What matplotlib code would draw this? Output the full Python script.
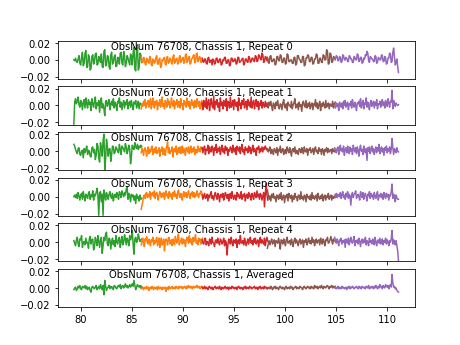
# Spectra of the 5 boards for each repeat of ObsNum 76708, Chassis 1

import numpy as np
import matplotlib.pyplot as plt

obsnum = 76708
chassis = 1
titles = ["Repeat 0", "Repeat 1", "Repeat 2", "Repeat 3", "Repeat 4", "Averaged"]

# frequency range covered by each board (GHz)
seg_start = [79.3, 85.9, 91.86, 98.26, 104.85]
seg_stop = [85.95, 91.9, 98.3, 104.9, 111.1]
colors = ["C2", "C1", "C3", "C5", "C4"]

# spectra, in units of 1e-3, one list per board
rep0 = [
    [0, -1, 2, -2, -3, 1, 5, -4, -6, 3, 9, -7, -4, 8, 11, -9, -8, 6, 3, -12, -10, 4, 6, -5, -2, 7, 8, -6, -5, 4, 1, -3, 7, -8, -9, 10, 12, -7, -6, 5, 4, -8, -11, 6, 9, -5, -3, 4, 6, -8, -7, 3, 2, -5, 8, 9, -4, -6, 10, 5, -8, -4, 5, 2, -2, -6, 7, 4, -6, 9, 15, -11, -13, 14, 18, -12, -9, 8, 6, -3],
    [4, -2, -3, 3, 2, -5, -6, 2, 1, -3, -4, 4, 3, -6, -7, 1, 0, -4, -2, 3, 5, -5, -5, 1, 2, -9, -8, 0, -1, 2, 3, -5, -6, 3, 4, -4, -3, 2, 1, -3, -5, 4, 6, -4, -2, 1, 2, -5, -4, 3, 5, -3, -1, 2, 3, -4, -3, 6, 7, -3, -2, 3, 4, -5, -4, 1, 2, 5, 6, -3, -3, 7, 8, -2, -1, 4, 3, -3, -2, 1],
    [2, -2, -3, 1, 1, -4, -5, 2, 3, -3, -2, 0, -6, 1, 0, -5, -4, 2, 2, -3, -3, 1, 1, -6, -5, 0, -1, 3, 3, -4, -4, 0, 0, -7, -6, 2, 2, -2, -2, 1, 1, -5, -4, 3, 3, -3, -2, -1, 1, 2, -6, -5, 1, 1, -2, -3, 4, 3, -3, -2, 2, 2, -1, -2, 5, 4, -2, -1, 6, 5, 1, 0, 8, 6, -3, -2, 4, 3, -1, 1],
    [3, -3, -4, 4, 5, -2, -2, 1, 1, -6, -5, 4, 4, -1, -1, 6, 5, -3, -3, 2, 2, -5, -4, 7, 6, -2, -2, 0, 0, -4, -4, 3, 3, -6, -5, 5, 5, 1, 0, -3, -3, 4, 4, -7, -6, 2, 2, 6, 5, -2, -2, 3, 3, -5, -4, 1, 1, 7, 6, -4, -4, 2, 2, -3, -3, 6, 5, 0, 0, 12, 10, -5, -4, 8, 7, -3, -2, 4, 3, 0],
    [2, 1, 5, 4, -1, -1, 4, 3, -3, -2, 6, 5, 0, 0, 3, 2, -2, -2, 5, 4, 1, 1, -3, -3, 4, 3, 0, 0, 7, 6, -2, -1, 3, 3, -4, -3, 2, 1, 6, 5, 10, 8, -1, -3, 4, 3, 1, 1, -2, -2, 5, 4, -4, -3, 3, 2, 0, 0, 6, 5, -2, -2, 4, 3, -5, -4, 2, 2, 8, 7, -3, -2, 9, 14, 4, -6, -3, 1, -8, -15],
]
rep1 = [
    [-22, 4, 8, 2, 5, 10, 1, -2, 6, 3, -5, 4, 7, -3, 9, 2, -3, 7, 1, 4, -6, 8, 2, -2, 5, 10, -4, 3, 0, 6, -8, 4, 9, -3, 2, -4, -12, 5, 6, -1, 3, 7, -5, 2, 5, 0, 8, -3, 4, 1, -6, 5, 3, 9, -2, 4, -5, 2, 6, -3, 4, 1, 7, -4, 3, 5, -2, 6, 0, -5, 4, 2, 6, -3, 1, 5, -4, 3, 2, 0],
    [-4, 2, -1, 5, 0, 7, -3, 3, 1, 6, -2, 4, 8, -4, 2, 9, 0, -3, 5, 1, 6, -5, 3, 0, 7, -2, 4, 10, -1, 2, -4, 6, 3, -2, 8, 1, 5, -3, 0, 9, 2, -1, 6, -4, 4, 1, 7, -2, 3, 5, -3, 8, 0, 2, -5, 6, 1, 4, -2, 9, 3, -1, 5, -4, 2, 7, 0, 4, -3, 6, 1, -2, 8, 3, -1, 5, -4, 2, 6, -3],
    [3, -5, 6, 1, -2, 9, -4, 4, 7, -6, 2, 8, 0, -3, 11, -5, 5, 1, 7, -2, 3, -7, 9, 0, 4, -4, 6, 2, -1, 8, -6, 5, 3, -3, 10, -2, 1, 6, -5, 7, 2, -1, 4, -6, 9, 0, 3, -4, 6, 1, 8, -3, 2, 5, -5, 7, 0, 4, -2, 10, -3, 3, 6, -4, 2, 7, -1, 5, -5, 3, 0, 6, -3, 4, 1, -2, 5, -1, 3, 2],
    [2, -3, 4, 0, 5, -1, -6, 3, 1, -4, 4, 0, 6, -2, -4, 2, 1, -5, 3, 7, -1, -3, 2, -6, 4, 1, 0, -2, 5, -4, 1, 3, 8, -3, 0, 2, -5, 4, -1, 1, -7, 3, 5, 0, -2, 6, -3, 2, -1, 4, -4, 1, 3, -5, 2, 0, 7, -2, 3, -4, 1, 5, -6, 2, -1, 4, 0, -3, 6, -2, 1, 3, -4, 2, 0, -1, 5, -3, 2, 4],
    [0, -3, 3, -1, 2, -6, 4, 1, -2, 3, -4, 5, 0, 6, -2, 1, 4, -5, 2, 0, 5, -3, 7, 1, -2, 4, 0, -6, 3, 2, 5, -1, 8, -3, 2, 6, -4, 3, 1, 9, -2, 4, 0, -5, 3, 6, -1, 2, 5, -3, 4, 0, 7, -4, 2, 1, 5, -2, 3, 7, 0, 4, -3, 6, 2, -1, 8, 3, -2, 5, 4, 18, -4, 6, 2, -1, 3, 1, 0, 1],
]
rep2 = [
    [8, 6, 2, -1, -3, 3, 4, -4, -5, 0, 1, -8, 3, -2, 2, 6, -4, 1, 0, -6, -7, 4, 5, -2, 2, -10, -5, 9, 6, -8, -13, 10, 4, -6, 12, 20, -22, -9, 14, 6, -6, 2, 3, -12, -4, 6, 5, -3, -1, 5, 3, 0, -2, 8, 2, -4, 6, 4, 2, -1, 9, 5, -3, 1, 7, 3, -15, -6, 7, 4, 2, 10, 5, 3, 8, 2, 6, 4, 7, 5],
    [-2, 3, 1, -5, 2, 4, 0, -6, 1, 5, -3, 2, -1, 4, 6, -4, 0, 3, -2, 5, -3, 1, -1, 4, -6, 2, 0, 5, -4, 3, 1, -5, 2, 6, 11, -2, 4, -3, 1, 0, 5, -7, 2, 3, -1, 6, -4, 0, 4, -2, 5, -3, 1, 6, -2, 3, 0, -5, 4, 2, -1, 5, -3, 1, 6, -2, 3, 0, 5, -4, 2, 1, -2, 6, 0, 3, -1, 5, 2, 4],
    [4, -2, 3, 6, -4, 2, 1, 7, -3, 5, 0, -1, 6, 3, -5, 4, 1, 8, -2, 3, 0, 5, -4, 2, 7, -1, 3, -3, 6, 1, 4, -5, 2, 0, 5, 3, -2, 7, 1, -1, 4, -4, 6, 2, 0, 5, -3, 3, 8, -1, 2, -4, 5, 1, 3, -2, 6, 0, 4, -3, 2, 7, -1, 3, 1, -5, 4, 2, 6, -2, 3, 0, 5, -1, 4, 2, 6, 3, 1, 2],
    [3, -1, 1, 5, -3, 2, 0, -4, 3, 1, -2, 4, -5, 2, 0, 6, -2, 1, 3, -4, 0, 2, -3, 5, 1, -2, 4, 0, -6, 2, 3, -1, 5, -3, 1, 0, -4, 3, 2, -2, 4, 1, -3, 5, 0, -1, 3, -5, 2, 1, 4, -2, 0, 3, -4, 2, 5, -1, 1, -3, 4, 0, 2, -4, 3, 1, -5, 2, 0, 4, -2, 3, -1, 1, 2, -3, 3, 0, -1, 2],
    [4, 1, -2, 3, 5, -4, 2, 7, 0, 3, -1, 6, -5, 2, 4, -2, 6, 1, -3, 5, 0, 3, -4, 7, 2, -1, 4, -3, 5, 1, -6, 3, 7, 0, 2, -4, 6, 1, -2, 3, -11, 4, 0, 5, -3, 2, 6, -1, 3, -4, 1, 5, -2, 4, 0, 8, -3, 2, 5, -1, 3, -5, 4, 1, 6, -2, 3, 0, 5, -3, 2, 15, 4, -4, 3, 1, -2, 4, 0, -1],
]
rep3 = [
    [0, 2, -1, 3, -2, 5, 1, -4, 2, 4, -3, 6, 0, -5, 3, 1, -2, 4, 6, -3, 2, 0, 7, -4, 3, 1, 5, 10, 2, -22, 4, 6, -6, 3, -22, 8, 2, -4, 5, 1, -3, 3, 6, 0, -2, 4, -5, 1, 3, -1, 5, 2, -3, 6, 4, -1, 7, 3, 0, 5, 2, 9, 12, -3, 4, 1, -6, 3, 0, 2, -4, 1, -8, 3, -2, 0, -5, 2, -3, -2],
    [-15, -10, -6, 1, 2, -2, 4, 5, -1, 3, 0, 6, -3, 4, 2, 5, 0, 7, -2, 3, 5, 1, -4, 2, 6, 3, -1, 4, 0, 5, -3, 2, 7, 1, 3, -2, 6, 0, 4, 2, -3, 5, 1, 7, 0, 3, -2, 5, 8, 1, -1, 4, 2, -4, 3, 6, 0, 2, 5, -1, 3, 7, 1, -2, 4, 2, 6, 0, 5, -1, 3, 1, 7, 2, -1, 4, 3, 7, 5, 2],
    [2, -3, 1, 4, -2, 0, 3, -5, 2, -1, 3, 6, -2, 1, -4, 2, 5, 0, -3, 4, 1, -6, 2, 3, -1, 4, -4, 0, 5, 2, -2, 3, -5, 1, 4, -2, 6, 0, -3, 2, 1, -4, 5, 0, 3, -2, -1, 6, -3, 2, 0, 4, -5, 1, 3, -2, 5, 0, 2, -4, 4, 1, -3, 5, 2, -1, 7, 0, 3, -3, 4, 2, -4, 1, 5, -12, 3, 16, 2, -4],
    [8, 2, -3, 1, -5, 3, -1, 4, -2, 0, -6, 2, 1, -3, 3, -2, 5, -4, 0, 2, -7, 1, -1, 3, -5, 4, 0, -2, 2, -6, 1, -3, 4, -1, 0, -5, 2, 1, -3, 6, -2, 0, -4, 2, 1, -6, 3, -1, 0, -3, 2, -4, 5, -2, 1, -3, 0, 2, -5, 4, -1, -3, 1, -2, 3, -5, 0, 2, -4, 1, -1, 4, -3, 0, 2, -4, 1, -2, 0, -1],
    [2, 0, 4, -1, 3, 1, 0, 5, -2, 3, 6, -1, 2, -3, 4, 0, 6, -2, 3, 1, -10, 2, 5, -1, 3, 4, 7, -2, 1, 3, 0, -4, 6, 2, -1, 5, -3, 2, 4, 0, -5, 3, 1, 6, -2, 4, 0, 2, -3, 5, 1, -2, 3, 6, -4, 2, 0, 4, -1, 3, -3, 5, 1, -2, 4, 0, 3, -4, 2, 1, 6, 15, -2, 3, 0, -6, 2, -1, -3, -3],
]
rep4 = [
    [2, -1, -4, 3, 6, -2, -5, 4, 3, 8, -6, 0, 1, -3, 5, -1, 0, -7, 4, 7, -2, 3, 4, -9, -5, 6, 2, -4, 8, 1, -6, 3, 6, -13, -4, 6, 2, 10, 12, -2, -4, 5, 3, -8, 1, 5, -3, 2, -5, 8, 0, -2, 4, 6, -6, 1, 7, -3, 0, 9, 4, -3, 5, 2, -4, 8, 3, 6, 14, -2, -14, 4, 6, 0, 2, 10, 5, 1, 3, 4],
    [-3, 2, 5, -2, -5, 4, 2, 7, -1, -2, 4, 0, -4, 3, 1, 6, -3, 2, -1, 3, 6, -4, 0, 5, -6, 2, 5, -3, 0, 4, -10, 1, 4, 2, -3, 5, 6, -2, 1, 3, -4, 4, 0, -3, 7, 2, -1, 5, 10, -3, 0, 2, 5, -2, 4, -1, 3, -5, 2, 6, 3, -1, 8, 0, 4, -2, -3, 6, 1, 3, 9, -1, 2, -3, 5, 1, 4, -2, 3, 5],
    [3, -1, -2, 4, 5, -3, 1, 0, -4, 4, 3, -2, 6, 0, -1, -5, 2, 3, -1, 5, 0, -3, 4, 2, -2, 1, 5, -4, 2, 0, -15, -3, 4, 1, -2, 6, 0, -4, 3, 1, -1, 4, -6, 2, 3, -2, 8, 0, -1, 2, -3, 5, 1, -4, 0, 4, -2, 3, 6, -1, 2, -3, 4, 0, 5, -2, 1, 3, -5, 2, 6, -1, 3, 0, -2, 5, -4, 2, 6, 1],
    [-7, -2, 2, -3, 1, 4, -2, 0, 3, -5, 2, 1, -1, 5, 0, -8, 3, 2, -2, 4, 1, -4, 3, 6, -1, 0, 2, -3, 4, 0, -5, 2, 5, -1, 3, 0, -4, 2, 4, -2, 1, 3, -6, 2, 0, 4, -3, 1, 5, -1, 2, -2, 6, 0, 3, -4, 1, 4, -1, 2, 3, -3, 5, 0, -2, 4, 1, -4, 3, 2, 6, -1, 0, 3, 7, 2, -2, 4, 2, 1],
    [6, 2, -1, 4, 0, -4, 3, 1, 5, -2, 2, 0, 3, -6, 4, 1, -1, 5, -3, 2, 6, 0, -1, 3, 7, -4, 2, 0, 3, -2, 5, 1, -5, 2, 4, -1, 3, 0, 6, -3, 2, 1, -4, 5, 0, 2, -2, 4, 1, -3, 6, 0, -4, 2, 3, -1, 5, -2, 1, 4, -3, 2, 0, 5, -2, 3, 1, -4, 2, 0, 4, 14, -2, 3, 1, -3, 2, -4, -10, -22],
]
avg = [
    [-2, 0, 1, -3, -1, 2, 0, 3, -1, -2, 2, 1, 0, 3, -1, 2, -2, 0, 1, -3, -5, 1, 2, 0, -1, 1, 3, -2, 0, 2, -1, 4, 1, -2, 3, -8, 9, 2, -3, 0, 1, 3, -1, 2, 0, 1, -2, 3, 2, 0, -1, 2, 3, 1, 4, -1, 2, 3, 0, 2, 5, 1, 3, 0, 2, 4, 1, 3, 5, 2, 9, 3, -2, 1, 4, 2, 1, 3, 0, 2],
    [-1, 0, 1, -2, 1, 0, -1, 2, -1, 1, -3, 0, 1, -1, 2, 0, -2, 1, 0, -1, 1, -2, 2, 0, -1, 1, 0, -2, 1, -1, 0, 1, -4, 0, 1, -2, 2, 0, -1, 1, 2, -1, 0, 1, -1, 2, 0, 1, -1, 2, 0, 1, 2, -1, 1, 0, 2, 1, -1, 2, 0, 3, 1, 0, 2, 1, -1, 2, 1, 0, 2, 1, 3, 0, 1, 2, -1, 1, 2, 1],
    [1, -1, 0, 2, -1, 1, 0, -2, 1, 2, 0, -1, 1, -2, 0, 1, 2, -1, 0, 1, -1, 2, 0, -2, 1, 0, -1, 1, 2, -1, 0, 1, -2, 1, 0, -1, 2, 0, 1, -1, 0, 1, -2, 1, 2, 0, -1, 1, 0, -2, 1, 0, 2, -1, 1, 0, -1, 2, 0, 1, -1, 0, 1, 2, -1, 0, 1, -2, 1, 0, 2, -1, 0, 1, -1, 2, 0, 1, -1, 0],
    [-1, 0, 1, -1, 2, 0, -2, 1, 0, 2, -1, 1, 0, -2, 1, 2, 0, -1, 1, 0, -2, 1, 2, -1, 0, 1, -1, 2, 0, 1, -2, 0, 1, 2, -1, 1, 0, -1, 2, 1, 0, -2, 1, 2, 0, -1, 1, 2, 0, 1, -1, 2, 0, 1, -1, 3, 1, 0, 2, -1, 1, 2, 0, 3, 1, -1, 2, 1, 0, 2, 3, 1, -1, 2, 1, 3, 0, 2, 1, 2],
    [0, 1, -1, 0, 2, -1, 1, 0, -1, 2, 0, 1, -1, 0, 1, -2, 1, 0, 2, -1, 1, 0, 2, 1, -1, 0, 1, 2, 0, -1, 2, 0, 1, -1, 2, 1, 0, 1, -1, 2, 1, 0, 3, -1, 1, 0, 2, 1, -1, 2, 0, 3, 1, -1, 2, 0, 4, 1, 2, -1, 3, 1, 0, 4, 2, 1, 3, -1, 2, 4, 1, 16, 6, 1, 2, -1, 0, -3, -4, -5],
]

spectra = [rep0, rep1, rep2, rep3, rep4, avg]

fig, axes = plt.subplots(6, 1, sharex=True, sharey=True, figsize=(6.4, 4.8), dpi=72)

for ax, spec, title in zip(axes, spectra, titles):
    for board in range(5):
        y = np.array(spec[board]) * 1e-3
        x = np.linspace(seg_start[board], seg_stop[board], len(y))
        ax.plot(x, y, color=colors[board])
    ax.text(0.404, 0.985, f"ObsNum {obsnum}, Chassis {chassis}, {title}",
            transform=ax.transAxes, ha="center", va="top")

axes[0].set_ylim(-0.0225, 0.0225)
axes[0].set_yticks([-0.02, 0.0, 0.02])

fig.savefig("out.png")
